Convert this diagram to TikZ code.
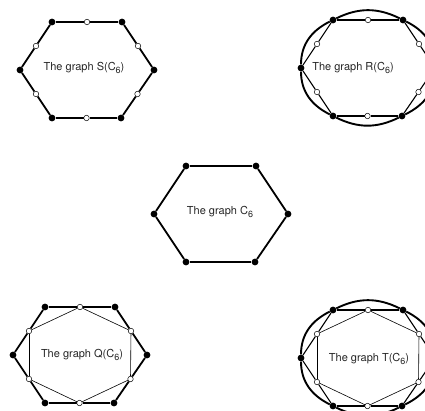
\documentclass[tikz,border=0pt]{standalone}
\usepackage{fontspec}
\setmainfont{TeX Gyre Heros}
\usepackage{tikz}
\usetikzlibrary{calc, backgrounds}
\newcommand{\lowsix}{\raisebox{-0.45ex}{\fontsize{9}{9}\selectfont 6}}

\begin{document}
\begin{tikzpicture}[x=1pt, y=-1pt,
    bv/.style={circle, fill=black, inner sep=0pt, minimum size=6.8pt},
    wv/.style={circle, draw=black, fill=white, line width=0.5pt, inner sep=0pt, minimum size=5.5pt},
    cyc/.style={line width=1.8pt},
    spoke/.style={line width=1.1pt},
    inner/.style={line width=0.6pt},
    rim/.style={line width=1.9pt},
    lbl/.style={font=\fontsize{11}{13}\selectfont, text=black!85}]
    \useasboundingbox (0,0) rectangle (425,411);
    \clip (0,0) rectangle (425,411);
    % Original vertices of the five hexagons
    \foreach \g/\cx/\cy in {S/87/70, R/368/68, C/221/214, Q/80/355, T/368/358} {
        \foreach \v/\dx/\dy in {a/-35/-48, b/35/-48, c/67/0, d/34/48, e/-35/48, f/-67/0}
            \node[bv] (\g\v) at (\cx+\dx, \cy+\dy) {};
    }
    % Edge vertices (white)
    \foreach \g in {S,R,Q,T} {
        \foreach \p/\q in {a/b, b/c, c/d, d/e, e/f, f/a}
            \node[wv] (\g\p\q) at ($(\g\p)!0.5!(\g\q)$) {};
    }
    % Labels
    \node[lbl] (Slbl) at (84,68) {The graph S(C\lowsix)};
    \node[lbl] (Rlbl) at (353,68) {The graph R(C\lowsix)};
    \node[lbl] (Clbl) at (220,212) {The graph C\lowsix};
    \node[lbl] (Qlbl) at (82,355) {The graph Q(C\lowsix)};
    \node[lbl] (Tlbl) at (369,359) {The graph T(C\lowsix)};
    \begin{scope}[on background layer]
        \clip (0,0) rectangle (425,411);
        % C6
        \foreach \p/\q in {a/b, b/c, c/d, d/e, e/f, f/a}
            \draw[cyc] (C\p) -- (C\q);
        % S(C6) and Q(C6): subdivided cycle
        \foreach \g in {S,Q}
            \foreach \p/\q in {a/b, b/c, c/d, d/e, e/f, f/a}
                \draw[cyc] (\g\p) -- (\g\p\q) -- (\g\q);
        % R(C6) and T(C6): thinner spokes
        \foreach \g in {R,T}
            \foreach \p/\q in {a/b, b/c, c/d, d/e, e/f, f/a}
                \draw[spoke] (\g\p) -- (\g\p\q) -- (\g\q);
        % Q(C6) and T(C6): edges between edge vertices
        \foreach \g in {Q,T}
            \foreach \p/\q/\r in {a/b/c, b/c/d, c/d/e, d/e/f, e/f/a, f/a/b}
                \draw[inner] (\g\p\q) -- (\g\q\r);
        % R(C6) and T(C6): original edges as an oval rim
        \foreach \g in {R,T}
            \foreach \p/\q/\o/\i in {c/b/90/-26.3, b/a/153.7/26.3, a/f/206.3/90,
                                     f/e/270/153.7, e/d/-26.3/206.3, d/c/26.3/270}
                \draw[rim] (\g\p) to[out=\o, in=\i] (\g\q);
    \end{scope}
\end{tikzpicture}
\end{document}
